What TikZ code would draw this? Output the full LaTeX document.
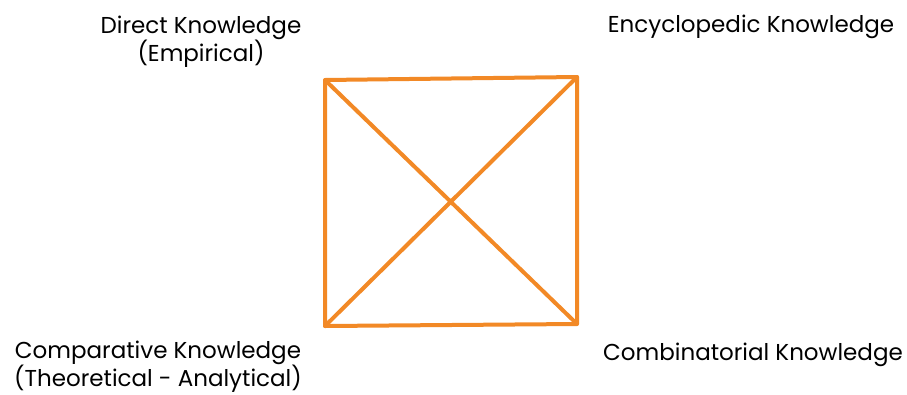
\documentclass[tikz,border=0pt]{standalone}
\usepackage{fontspec}
\setmainfont{Poppins}
\usepackage{xcolor}
\usepackage{tikz}
\definecolor{kworange}{RGB}{242,137,38}

\begin{document}
\begin{tikzpicture}[x=1pt,y=-1pt,
  label/.style={align=center,inner sep=0pt,font=\fontsize{23}{28}\selectfont},
  edge/.style={draw=kworange,line width=4pt,line cap=round,line join=round}
]
  \useasboundingbox (0,0) rectangle (907,394);
  % corners of the square
  \coordinate (tl) at (325,80);
  \coordinate (tr) at (577,77);
  \coordinate (br) at (577,324);
  \coordinate (bl) at (325,326);
  \draw[edge] (tl)--(tr)--(br)--(bl)--cycle;
  \draw[edge] (tl)--(br); \draw[edge] (tr)--(bl);
  % labels
  \node[label] (direct) at (201,42) {Direct Knowledge\\(Empirical)};
  \node[label] (ency) at (751,27) {Encyclopedic Knowledge};
  \node[label] (comp) at (158,367) {Comparative Knowledge\\(Theoretical - Analytical)};
  \node[label] (comb) at (753,355) {Combinatorial Knowledge};
\end{tikzpicture}
\end{document}
